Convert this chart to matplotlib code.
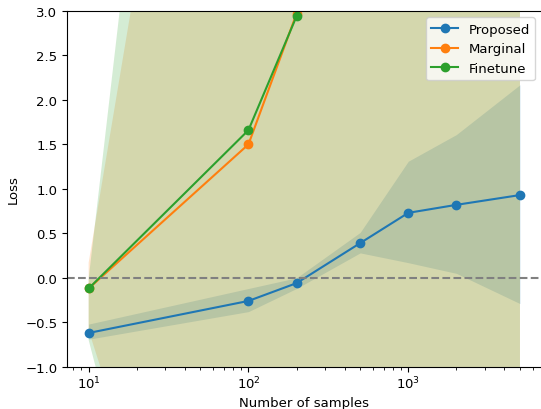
import matplotlib
matplotlib.use('Agg')
import matplotlib.pyplot as plt
import numpy as np

samples = [10, 100, 200, 500, 1000, 2000, 5000]

# Proposed
proposed_mean = [-0.62, -0.26, -0.06, 0.39, 0.73, 0.82, 0.93]
proposed_low = [-0.69, -0.38, -0.12, 0.28, 0.17, 0.05, -0.29]
proposed_high = [-0.52, -0.12, 0.00, 0.51, 1.31, 1.61, 2.17]

# Marginal (most of it is off the chart)
marginal_mean = [-0.12, 1.50, 2.97, 6.0, 10.0, 15.0, 25.0]
marginal_low = [-0.59, -6.2, -10.0, -15.0, -20.0, -25.0, -30.0]
marginal_high = [0.17, 10.9, 15.0, 20.0, 25.0, 30.0, 40.0]

# Finetune
finetune_mean = [-0.12, 1.66, 2.94, 6.0, 10.0, 15.0, 25.0]
finetune_low = [-0.70, -7.6, -12.0, -16.0, -21.0, -26.0, -32.0]
finetune_high = [-0.01, 15.5, 18.0, 22.0, 27.0, 32.0, 42.0]

plt.rcParams['font.size'] = 9.5

fig = plt.figure(figsize=(5.41, 4.10), dpi=100)
ax = fig.add_axes([0.124, 0.103, 0.877, 0.868])

series = [
    ('Proposed', proposed_mean, proposed_low, proposed_high, 'C0'),
    ('Marginal', marginal_mean, marginal_low, marginal_high, 'C1'),
    ('Finetune', finetune_mean, finetune_low, finetune_high, 'C2'),
]

for name, mean, low, high, col in series:
    ax.plot(samples, mean, marker='o', color=col, label=name)
    ax.fill_between(samples, low, high, color=col, alpha=0.2, linewidth=0)

ax.axhline(0, color='gray', linestyle='--', linewidth=1.5)

ax.set_xscale('log')
ax.set_ylim(-1, 3)
ax.tick_params(axis='x', pad=2.5)
ax.set_xlabel('Number of samples', labelpad=3)
ax.set_ylabel('Loss')
ax.legend(loc='upper right')

fig.savefig('out.png', dpi=100)
